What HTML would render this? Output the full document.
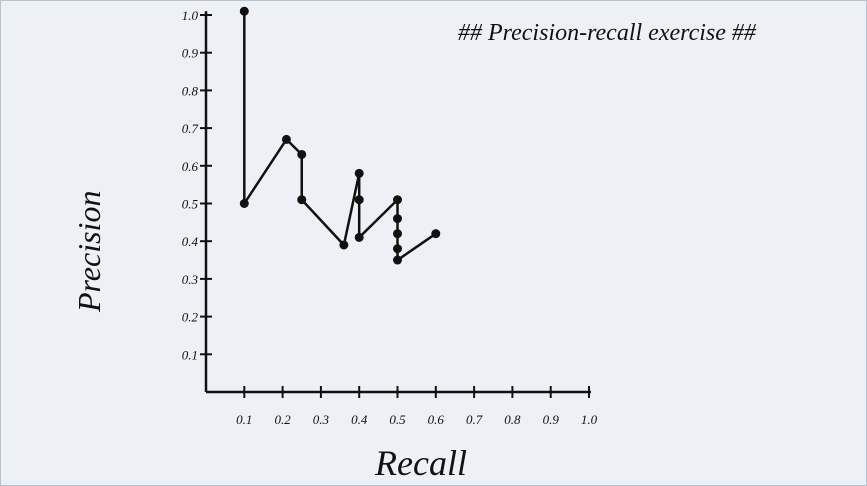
<!DOCTYPE html>
<html><head><meta charset="utf-8"><style>
body{margin:0;background:#edf0f4;}
svg{display:block;}
text{font-family:"Liberation Serif",serif;font-style:italic;fill:#111;}
</style></head><body>
<svg id="chart" width="867" height="486">
<rect x="0.5" y="0.5" width="866" height="485" fill="#edf0f4" stroke="#b8c4cc"/>
<text x="458" y="40" font-size="24">## Precision-recall  exercise ##</text>
<text x="375" y="475" font-size="36">Recall</text>
<text transform="translate(100,312) rotate(-90)" font-size="32">Precision</text>
<g id="axes"></g><g id="series"></g>
</svg>
<script>
const xTicks=[0.1,0.2,0.3,0.4,0.5,0.6,0.7,0.8,0.9,1.0];
const xTickLabels=["0.1","0.2","0.3","0.4","0.5","0.6","0.7","0.8","0.9","1.0"];
const yTicks=[0.1,0.2,0.3,0.4,0.5,0.6,0.7,0.8,0.9,1.0];
const yTickLabels=["0.1","0.2","0.3","0.4","0.5","0.6","0.7","0.8","0.9","1.0"];
const recall=[0.1,0.1,0.21,0.25,0.25,0.36,0.4,0.4,0.4,0.5,0.5,0.5,0.5,0.5,0.6];
const precision=[1.01,0.5,0.67,0.63,0.51,0.39,0.58,0.51,0.41,0.51,0.46,0.42,0.38,0.35,0.42];
const NS="http://www.w3.org/2000/svg";
const X=v=>206+v*383, Y=v=>392-v*377;
function mk(tag,at,parent){const e=document.createElementNS(NS,tag);for(const k in at)e.setAttribute(k,at[k]);parent.appendChild(e);return e;}
const ax=document.getElementById('axes'), se=document.getElementById('series');
let a=mk('line',{x1:X(0),y1:Y(0),x2:X(1.005),y2:Y(0),stroke:'#111','stroke-width':2.5},ax);


a=mk('line',{x1:X(0),y1:Y(0),x2:X(0),y2:Y(1.01),stroke:'#111','stroke-width':2.5},ax);


xTicks.forEach((t,i)=>{
 const l=mk('line',{x1:X(t),y1:Y(0)-6,x2:X(t),y2:Y(0)+6,stroke:'#111','stroke-width':2},ax);
 
 
 const tx=mk('text',{x:X(t),y:Y(0)+32,'text-anchor':'middle','font-size':13},ax);tx.textContent=xTickLabels[i];
 
 
});
yTicks.forEach((t,i)=>{
 const l=mk('line',{x1:X(0)-6,y1:Y(t),x2:X(0)+6,y2:Y(t),stroke:'#111','stroke-width':2},ax);
 
 
 const tx=mk('text',{x:X(0)-8,y:Y(t)+5,'text-anchor':'end','font-size':13},ax);tx.textContent=yTickLabels[i];
 
 
});
const p=mk('polyline',{points:recall.map((r,i)=>X(r)+','+Y(precision[i])).join(' '),fill:'none',stroke:'#111','stroke-width':2.5,'stroke-linejoin':'round'},se);


recall.forEach((r,i)=>{
 const c=mk('circle',{cx:X(r),cy:Y(precision[i]),r:4.5,fill:'#111'},se);
 
 
});
</script>
</body></html>
